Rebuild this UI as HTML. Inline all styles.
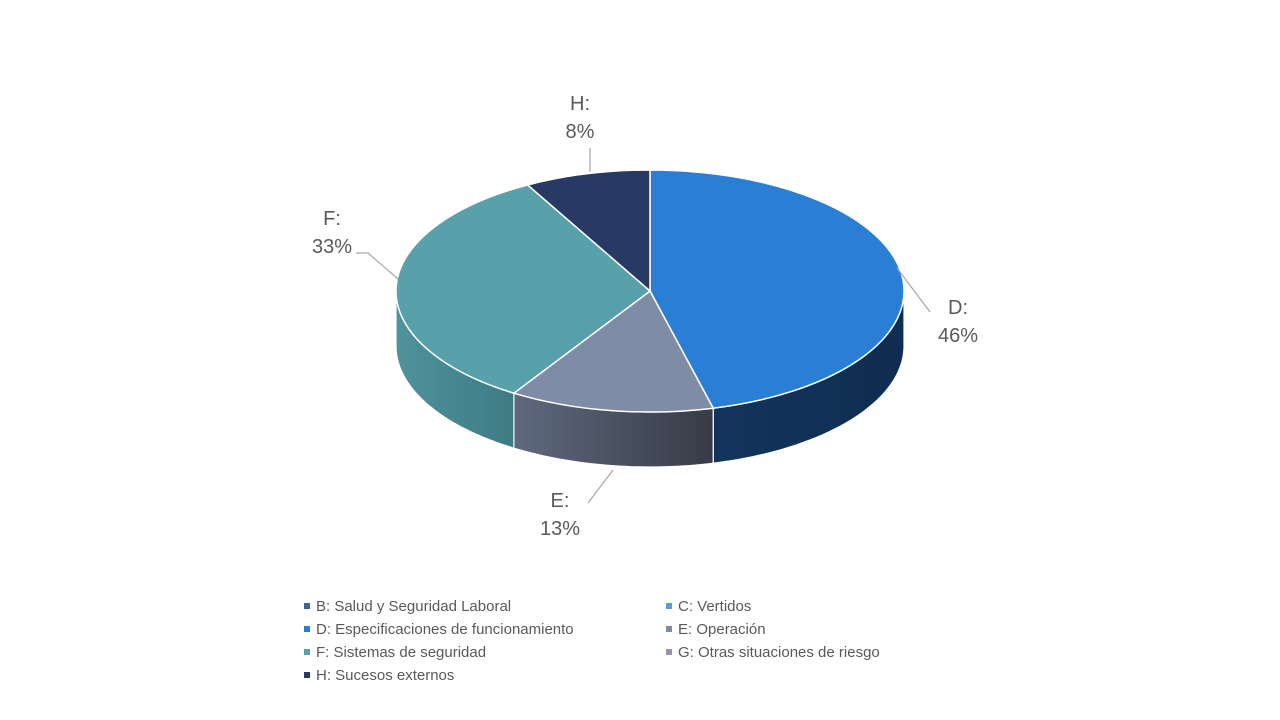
<!DOCTYPE html>
<html><head><meta charset="utf-8"><style>
body{margin:0;background:#fff;width:1280px;height:720px;overflow:hidden;font-family:"Liberation Sans",sans-serif}
svg{position:absolute;left:0;top:0}
</style></head><body>
<svg id="chart" width="1280" height="720">
<defs>
<linearGradient id="gE" x1="0" x2="1" y1="0" y2="0"><stop offset="0" stop-color="#5f697e"/><stop offset="1" stop-color="#363b46"/></linearGradient>
<linearGradient id="gF" x1="0" x2="1" y1="0" y2="0"><stop offset="0" stop-color="#4f939c"/><stop offset="1" stop-color="#3d7b83"/></linearGradient>
<linearGradient id="gD" x1="0" x2="1" y1="0" y2="0"><stop offset="0" stop-color="#12345c"/><stop offset="1" stop-color="#0f2d50"/></linearGradient>
</defs>
<g id="sides"></g><g id="tops"></g><g id="labels"></g><g id="legend"></g>
</svg>
<script>
const categories=["D","E","F","H"];
const values=[46,13,33,8];
const labelTexts=["46%","13%","33%","8%"];
const legendItems=["B: Salud y Seguridad Laboral","C: Vertidos","D: Especificaciones de funcionamiento","E: Operación","F: Sistemas de seguridad","G: Otras situaciones de riesgo","H: Sucesos externos"];
const legendColors=["#41609f","#5b9bd5","#2a7fd4","#7f8ca6","#58a0aa","#9a90a8","#283a63"];
const topColors=["#2a7fd4","#7f8ca6","#58a0aa","#283a63"];
const sideFills=["url(#gD)","url(#gE)","url(#gF)","#1c2a48"];
const cx=650,cy=291,rx=254,ry=121,depth=55;
const NS="http://www.w3.org/2000/svg";
function pt(deg,dy){const r=deg*Math.PI/180;return [cx+rx*Math.sin(r),cy-ry*Math.cos(r)+(dy||0)];}
function mk(tag,attrs,parent){const e=document.createElementNS(NS,tag);for(const k in attrs)e.setAttribute(k,attrs[k]);parent.appendChild(e);return e;}
const total=values.reduce((a,b)=>a+b,0);
let acc=0;const sides=document.getElementById('sides'),tops=document.getElementById('tops'),labels=document.getElementById('labels');
const angles=values.map(v=>{const a0=acc/total*360;acc+=v;return [a0,acc/total*360];});
angles.forEach(([a0,a1],i)=>{
  const s=Math.max(a0,90),e=Math.min(a1,270);
  if(e>s){
    let d="";const steps=40;
    for(let k=0;k<=steps;k++){const p=pt(s+(e-s)*k/steps);d+=(k?"L":"M")+p[0].toFixed(1)+","+p[1].toFixed(1);}
    for(let k=steps;k>=0;k--){const p=pt(s+(e-s)*k/steps,depth);d+="L"+p[0].toFixed(1)+","+p[1].toFixed(1);}
    const el=mk('path',{d:d+"Z",fill:sideFills[i],stroke:"#fff","stroke-width":1.2},sides);
    
    
  }
});
angles.forEach(([a0,a1],i)=>{
  const p0=pt(a0),p1=pt(a1),large=(a1-a0)>180?1:0;
  const d=`M${cx},${cy}L${p0[0]},${p0[1]}A${rx},${ry} 0 ${large} 1 ${p1[0]},${p1[1]}Z`;
  const el=mk('path',{d:d,fill:topColors[i],stroke:"#fff","stroke-width":1.5},tops);
  
  
});
// labels: anchor positions for callouts
const labelPos=[[958,307],[560,500],[332,218],[580,103]];
const leaders=["M897,268L930,312","M613,470L588,503","M398,279L368,253L356,253","M590,172L590,148"];
categories.forEach((c,i)=>{
  const l=mk('path',{d:leaders[i],fill:"none",stroke:"#a6a6a6","stroke-width":1.2},labels);
  
  
  const t=mk('text',{x:labelPos[i][0],y:labelPos[i][1]+7,"text-anchor":"middle","font-size":20,fill:"#595959"},labels);
  
  
  mk('tspan',{x:labelPos[i][0]},t).textContent=c+":";
  mk('tspan',{x:labelPos[i][0],dy:28},t).textContent=labelTexts[i];
});
const lg=document.getElementById('legend');
legendItems.forEach((txt,i)=>{
  const col=i%2,row=Math.floor(i/2);
  const x=col?666:304,y=606+row*23;
  const g=mk('g',{},lg);
  
  
  mk('rect',{x:x,y:y-3,width:6,height:6,fill:legendColors[i]},g);
  const t=mk('text',{x:x+12,y:y+5,"font-size":15,fill:"#595959"},g);
  t.textContent=txt;
});
</script>
</body></html>
